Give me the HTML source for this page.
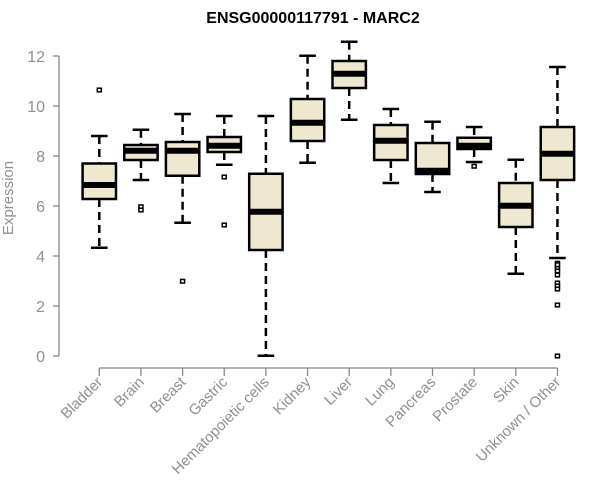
<!DOCTYPE html>
<html><head><meta charset="utf-8"><style>
body{margin:0;background:#fff;}
svg{display:block;font-family:"Liberation Sans",Arial,sans-serif;}
</style></head><body>
<svg id="chart" width="600" height="500" viewBox="0 0 600 500">
<text x="313" y="23" text-anchor="middle" font-weight="bold" font-size="16" fill="#000">ENSG00000117791 - MARC2</text>
<text transform="translate(13,198) rotate(-90)" text-anchor="middle" font-size="15" fill="#909090">Expression</text>
<g id="axes"></g>
<g id="boxes"></g>
</svg>
<script>
const categories=["Bladder","Brain","Breast","Gastric","Hematopoietic cells","Kidney","Liver","Lung","Pancreas","Prostate","Skin","Unknown / Other"];
const whiskerLow=[4.33,7.04,5.33,7.65,0.01,7.73,9.45,6.92,6.56,7.76,3.29,3.92];
const q1=[6.28,7.84,7.21,8.16,4.24,8.6,10.72,7.84,7.28,8.28,5.16,7.04];
const medians=[6.84,8.21,8.21,8.41,5.77,9.33,11.29,8.61,7.41,8.41,6.01,8.09];
const q3=[7.7,8.44,8.56,8.76,7.29,10.28,11.8,9.24,8.52,8.73,6.92,9.16];
const whiskerHigh=[8.8,9.05,9.68,9.6,9.6,12.01,12.57,9.88,9.37,9.16,7.85,11.56];
const outliers=[[10.64],[5.97,5.84],[2.99],[7.16,5.24],[],[],[],[],[],[7.59],[],[3.71,3.65,3.5,3.4,3.24,2.92,2.8,2.68,2.04,0]];
const yTicks=[0,2,4,6,8,10,12];
const NS="http://www.w3.org/2000/svg";
const y=v=>356-v*25;
const x=i=>99.3+i*41.65;
function mk(t,a,p){const e=document.createElementNS(NS,t);for(const k in a)e.setAttribute(k,a[k]);p.appendChild(e);return e;}
const ax=document.getElementById('axes'),bx=document.getElementById('boxes');
const yl=mk('line',{x1:59,x2:59,y1:y(12),y2:y(0),stroke:'#888','stroke-width':1.3},ax);


yTicks.forEach(t=>{
 const l=mk('line',{x1:53,x2:59,y1:y(t),y2:y(t),stroke:'#888','stroke-width':1.3},ax);
 
 
 const tx=mk('text',{x:45,y:y(t)+6,'text-anchor':'end','font-size':16,fill:'#909090'},ax);
 tx.textContent=t;
 
 
});
const xl=mk('line',{x1:x(0),x2:x(categories.length-1),y1:368,y2:368,stroke:'#888','stroke-width':1.3},ax);


categories.forEach((c,i)=>{
 const l=mk('line',{x1:x(i),x2:x(i),y1:368,y2:376,stroke:'#888','stroke-width':1.3},ax);
 
 
 const tx=mk('text',{transform:`translate(${x(i)+4},${383}) rotate(-45)`,'text-anchor':'end','font-size':15,fill:'#909090'},ax);
 tx.textContent=c;
 
 
 const g=mk('g',{},bx);
 
 
 const cx=x(i),hw=16.7,cw=8.3;
 mk('line',{x1:cx,x2:cx,y1:y(whiskerHigh[i]),y2:y(q3[i]),stroke:'#000','stroke-width':2.5,'stroke-dasharray':'8,5'},g);
 mk('line',{x1:cx,x2:cx,y1:y(q1[i]),y2:y(whiskerLow[i]),stroke:'#000','stroke-width':2.5,'stroke-dasharray':'8,5'},g);
 mk('line',{x1:cx-cw,x2:cx+cw,y1:y(whiskerHigh[i]),y2:y(whiskerHigh[i]),stroke:'#000','stroke-width':2.5},g);
 mk('line',{x1:cx-cw,x2:cx+cw,y1:y(whiskerLow[i]),y2:y(whiskerLow[i]),stroke:'#000','stroke-width':2.5},g);
 mk('rect',{x:cx-hw,y:y(q3[i]),width:hw*2,height:y(q1[i])-y(q3[i]),fill:'#ede8cf',stroke:'#000','stroke-width':2.5},g);
 mk('line',{x1:cx-hw,x2:cx+hw,y1:y(medians[i]),y2:y(medians[i]),stroke:'#000','stroke-width':6},g);
 outliers[i].forEach(o=>{
  const r=mk('rect',{x:cx-2,y:y(o)-1.8,width:4,height:3.6,fill:'#fff',stroke:'#000','stroke-width':1.5},g);
  
  
 });
});
</script>
</body></html>
